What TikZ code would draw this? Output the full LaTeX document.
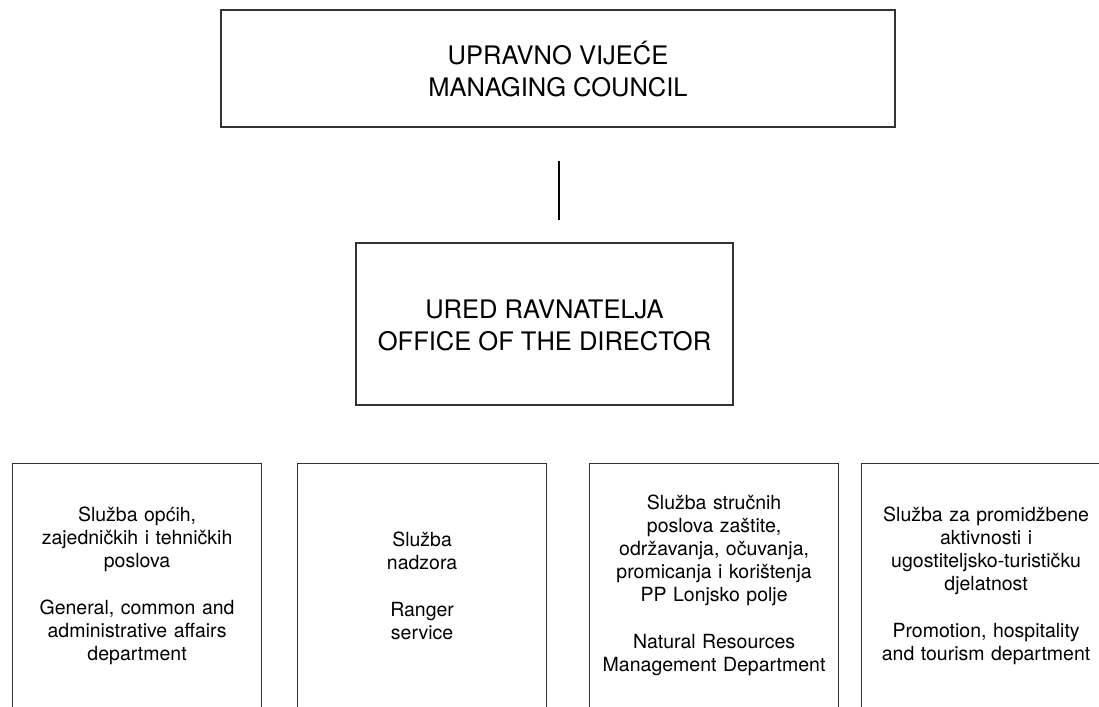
\documentclass[tikz,border=0pt]{standalone}
\usepackage{fontspec}
\setmainfont{TeX Gyre Heros}
\usetikzlibrary{positioning}

\tikzset{
  headbox/.style={draw=black!80, line width=1.2pt, inner sep=0pt},
  headtext/.style={align=center, inner sep=0pt, font=\fontsize{25.5}{32}\selectfont},
  deptbox/.style={draw=black!80, line width=1.2pt, align=center,
    inner sep=0pt, text width=249pt, minimum height=244pt, anchor=north west,
    font=\fontsize{19.5}{23}\selectfont},
}

\begin{document}
\begin{tikzpicture}[x=1pt, y=-1pt]
        \useasboundingbox (0,0) rectangle (1099,706);
        \clip (0,0) rectangle (1099,706);

        \node (council) [headbox, minimum width=674pt, minimum height=117pt] at (558,68.5) {};
        \node (councillabel) [headtext] at ([yshift=-1pt]council.center)
                {UPRAVNO VIJEĆE\\MANAGING COUNCIL};

        \node (director) [headbox, minimum width=377pt, minimum height=162pt] at (544.5,324) {};
        \node (directorlabel) [headtext] at ([yshift=-1pt]director.center)
                {URED RAVNATELJA\\OFFICE OF THE DIRECTOR};

        \draw [line width=1.6pt] (council.south) ++(1,33) -- ++(0,59);

        % departments
        \node (general) [deptbox] at (12,463)
                {Služba općih,\\zajedničkih i tehničkih\\poslova\\[24pt]
                 General, common and\\administrative affairs\\department};
        \node (ranger) [deptbox] at (297,463)
                {Služba\\nadzora\\[24pt]Ranger\\service};
        \node (resources) [deptbox] at (589,463)
                {Služba stručnih\\poslova zaštite,\\održavanja, očuvanja,\\promicanja i korištenja\\PP Lonjsko polje\\[24pt]
                 Natural Resources\\Management Department};
        \node (tourism) [deptbox] at (861,463)
                {Služba za promidžbene\\aktivnosti i\\ugostiteljsko-turističku\\djelatnost\\[24pt]
                 Promotion, hospitality\\and tourism department};
    \end{tikzpicture}
\end{document}
